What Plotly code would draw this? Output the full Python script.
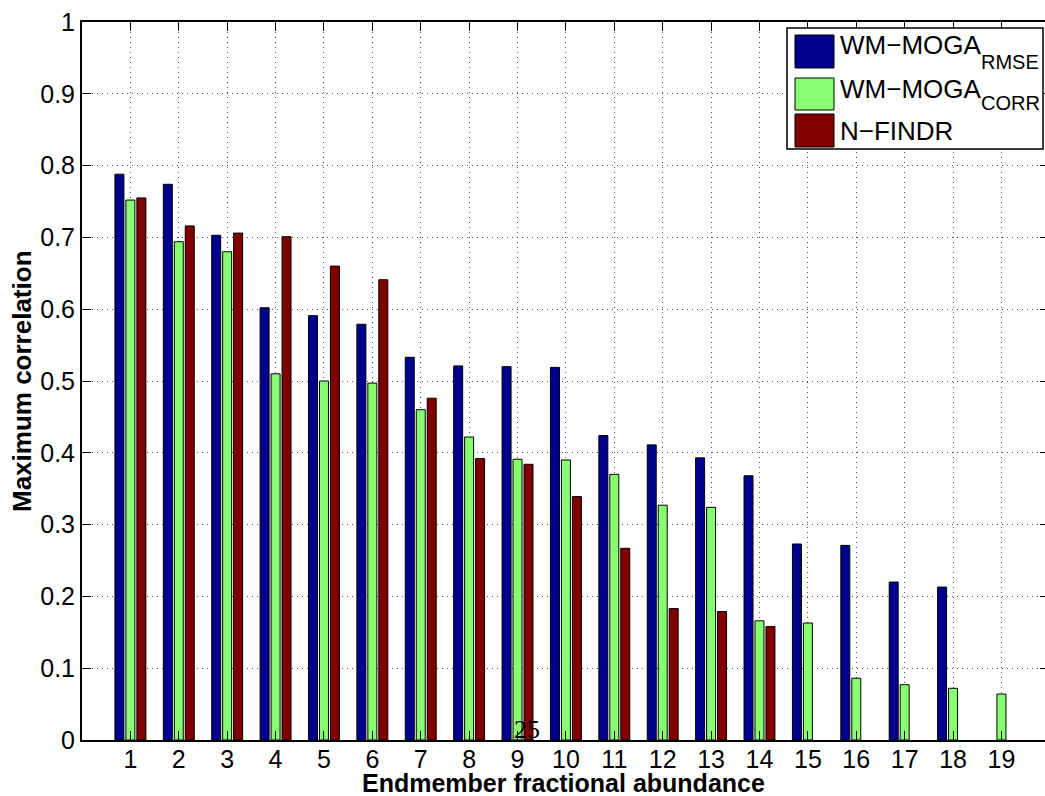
import plotly.graph_objects as go

# ---- data -------------------------------------------------------------
categories = list(range(1, 20))
wm_moga_rmse = [0.788, 0.774, 0.703, 0.602, 0.591, 0.579, 0.533, 0.521, 0.520, 0.519,
                0.424, 0.411, 0.393, 0.368, 0.273, 0.271, 0.220, 0.213, None]
wm_moga_corr = [0.752, 0.694, 0.680, 0.510, 0.500, 0.497, 0.460, 0.422, 0.391, 0.390,
                0.370, 0.327, 0.324, 0.166, 0.163, 0.086, 0.077, 0.072, 0.064]
n_findr = [0.755, 0.716, 0.706, 0.701, 0.660, 0.641, 0.476, 0.392, 0.384, 0.339,
           0.267, 0.183, 0.179, 0.158, None, None, None, None, None]
y_ticks = [0, 0.1, 0.2, 0.3, 0.4, 0.5, 0.6, 0.7, 0.8, 0.9, 1]
y_tick_text = ["0", "0.1", "0.2", "0.3", "0.4", "0.5", "0.6", "0.7", "0.8", "0.9", "1"]

series_names = ["WM−MOGA", "WM−MOGA", "N−FINDR"]
series_subs = ["RMSE", "CORR", ""]
series_colors = ["#00008F", "#88FF70", "#800000"]

# ---- layout geometry (pixels) ----------------------------------------
W, H = 1045, 796
ML, MR, MT, MB = 82, 0, 22, 56
PW, PH = W - ML - MR, H - MT - MB
FONT = "Liberation Sans, Arial, Helvetica, sans-serif"


def px_x(px):
    return (px - ML) / PW


def px_y(py):
    return (H - MB - py) / PH


fig = go.Figure()
for vals, name, sub, col in zip([wm_moga_rmse, wm_moga_corr, n_findr],
                                series_names, series_subs, series_colors):
    fig.add_trace(go.Bar(
        x=categories, y=vals, name=name + sub,
        marker=dict(color=col, line=dict(color="black", width=1)),
        showlegend=False,
    ))

grid = dict(showgrid=True, gridcolor="#555555", gridwidth=1, griddash="1px,4px")

fig.update_layout(
    width=W, height=H,
    margin=dict(l=ML, r=MR, t=MT, b=MB),
    paper_bgcolor="white", plot_bgcolor="white",
    barmode="group", bargap=0.32, bargroupgap=0.18,
    font=dict(family=FONT, size=25, color="black"),
    xaxis=dict(
        range=[0, 19.9], tickmode="array", tickvals=categories,
        ticktext=[str(c) for c in categories],
        ticks="inside", ticklen=9, tickcolor="black", ticklabelstandoff=-4,
        showline=True, linecolor="black", linewidth=2, mirror="ticks",
        zeroline=False, tickfont=dict(size=25), **grid,
    ),
    yaxis=dict(
        range=[0, 1], tickmode="array", tickvals=y_ticks, ticktext=y_tick_text,
        ticks="inside", ticklen=9, tickcolor="black",
        showline=True, linecolor="black", linewidth=2, mirror=False,
        zeroline=False, tickfont=dict(size=25), **grid,
    ),
    yaxis2=dict(
        overlaying="y", side="right", range=[0, 1], tickmode="array",
        tickvals=y_ticks, showticklabels=False, ticks="inside", ticklen=5,
        tickcolor="black", showgrid=False, zeroline=False, showline=False,
    ),
)

# invisible trace so the right-hand tick axis is drawn
fig.add_trace(go.Scatter(x=[None], y=[None], yaxis="y2", showlegend=False,
                         hoverinfo="skip"))

annotations = [
    dict(text="<b>Endmember fractional abundance</b>", x=0.5, y=px_y(783),
         xref="paper", yref="paper", xanchor="center", yanchor="middle",
         showarrow=False, font=dict(size=25)),
    dict(text="<b>Maximum correlation</b>", x=px_x(22), y=0.5, textangle=-90,
         xref="paper", yref="paper", xanchor="center", yanchor="middle",
         showarrow=False, font=dict(size=26)),
    dict(text="25", x=px_x(527), y=px_y(729), xref="paper", yref="paper",
         xanchor="center", yanchor="middle", showarrow=False,
         font=dict(family="Liberation Serif, Times New Roman, serif", size=26)),
]

# legend box
shapes = [dict(type="rect", xref="paper", yref="paper",
               x0=px_x(787), x1=px_x(1043), y0=px_y(28), y1=px_y(149),
               fillcolor="white", line=dict(color="black", width=1.5), layer="above")]
swatch_rows = [(35, 68), (78, 110), (114, 147)]
main_centers = [45, 89, 131]
sub_centers = [62, 103, None]
for (top, bot), col, name, sub, mc, sc in zip(swatch_rows, series_colors, series_names,
                                             series_subs, main_centers, sub_centers):
    shapes.append(dict(type="rect", xref="paper", yref="paper",
                       x0=px_x(795), x1=px_x(834), y0=px_y(bot), y1=px_y(top),
                       fillcolor=col, line=dict(color="black", width=1), layer="above"))
    annotations.append(dict(text=name, x=px_x(838), y=px_y(mc), xref="paper", yref="paper",
                            xanchor="left", yanchor="middle", showarrow=False,
                            font=dict(size=26)))
    if sub:
        annotations.append(dict(text=sub, x=px_x(979), y=px_y(sc), xref="paper",
                                yref="paper", xanchor="left", yanchor="middle",
                                showarrow=False, font=dict(size=20)))

fig.update_layout(shapes=shapes, annotations=annotations)

fig.write_html("out.html")
